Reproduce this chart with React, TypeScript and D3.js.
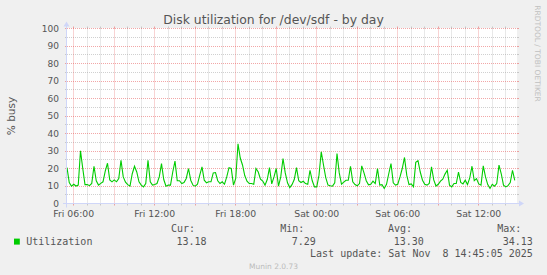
import React from "react";
import * as d3 from "d3";

const W = 547;
const H = 275;

// Time range of the graph (Munin "by day": 2000 minutes)
const START = new Date(2025, 10, 7, 5, 30);
const END = new Date(2025, 10, 8, 14, 50);
const STEP_MIN = 10;

const title = "Disk utilization for /dev/sdf - by day";
const yLabel = "% busy";
const seriesName = "Utilization";
const yTicks = [0, 10, 20, 30, 40, 50, 60, 70, 80, 90, 100];
const yMinorTicks = [5, 15, 25, 35, 45, 55, 65, 75, 85, 95];
const statLabels = ["Cur:", "Min:", "Avg:", "Max:"];
const statValues = ["13.18", "7.29", "13.30", "34.13"];
const lastUpdate = "Last update: Sat Nov  8 14:45:05 2025";
const watermark = "Munin 2.0.73";
const rrdLogo = "RRDTOOL / TOBI OETIKER";

const utilization = [
  20.5, 12, 9.9, 11.0, 10.0, 10.5, 30.1, 20, 10.8, 10.8,
  10.2, 11.5, 21.3, 13.0, 10.5, 11.5, 12.4, 18.5, 23.0, 13.5,
  12.4, 13.5, 12.4, 14.3, 24.7, 15.2, 12.2, 10.8, 9.9, 17.0,
  21.3, 18.0, 12.4, 10.5, 9.5, 11.4, 24.7, 12.4, 10.5, 10.8,
  11.4, 15.2, 22.8, 13.7, 9.9, 10.5, 10.5, 18.0, 24.2, 13.0,
  13.0, 11.4, 12.0, 14.3, 20.0, 13.3, 10.5, 9.9, 11.0, 16.2,
  20.9, 13.3, 11.8, 12.4, 12.4, 17.5, 17.7, 13.0, 11.4, 12.4,
  11.0, 15.2, 20.5, 20.0, 10.5, 14.3, 34.1, 26.0, 22.0, 16.0,
  12.8, 11.4, 11.4, 11.0, 20.0, 18.0, 13.9, 12.8, 10.5, 13.7,
  20.5, 11.2, 15.2, 20.0, 9.9, 15.2, 25.7, 17.5, 11.8, 9.1,
  10.8, 13.7, 20.5, 13.0, 12.0, 12.7, 11.4, 11.0, 19.0, 13.0,
  9.5, 9.5, 16.2, 29.5, 22.0, 14.8, 10.5, 10.1, 9.9, 11.8,
  28.6, 17.5, 11.0, 12.2, 13.3, 13.3, 21.3, 12.4, 10.8, 10.1,
  11.4, 21.5, 17.5, 13.0, 10.7, 11.0, 12.8, 11.4, 20.0, 10.5,
  10.8, 8.6, 11.0, 17.0, 22.8, 11.8, 10.5, 11.0, 15.2, 20.0,
  26.3, 16.2, 10.8, 11.2, 9.5, 23.5, 24.5, 18.0, 13.3, 11.0,
  10.5, 11.4, 21.0, 13.5, 10.0, 11.0, 12.8, 13.9, 16.8, 19.0,
  10.5, 9.5, 11.4, 11.4, 17.9, 12.0, 11.2, 13.3, 10.8, 14.6,
  21.3, 13.0, 14.2, 11.2, 10.5, 21.5, 15.2, 10.8, 8.6, 11.0,
  9.9, 11.4, 21.9, 17.0, 10.5, 9.5, 10.2, 12.0, 19.0, 13.18,
];

const X0 = 67;
const X1 = 517;
const Y0 = 203.5;
const Y1 = 28.5;

const GRID = "rgba(143,143,143,0.42)";
const MGRID = "rgba(229,80,80,0.5)";
const AXIS = "#CFD6F8";
const FONT = "#555555";
const SANS = "'DejaVu Sans', sans-serif";
const MONO = "'DejaVu Sans Mono', monospace";

export default function App() {
  const x = d3.scaleTime().domain([START, END]).range([X0, X1]);
  const y = d3.scaleLinear().domain([0, 100]).range([Y0, Y1]);

  const points = utilization.map((v, i) => ({
    t: new Date(START.getTime() + i * STEP_MIN * 60000),
    v,
  }));
  const line = d3
    .line<{ t: Date; v: number }>()
    .x((d) => x(d.t))
    .y((d) => y(d.v));

  const hours = d3.timeHour.range(START, END);
  const snap = (p: number) => Math.round(p - 0.5) + 0.5;

  const minorX = hours.filter((h) => h.getHours() % 3 !== 0);
  const majorX = hours.filter((h) => h.getHours() % 3 === 0);
  const labelX = hours.filter((h) => h.getHours() % 6 === 0);
  const fmt = d3.timeFormat("%a %H:%M");

  return (
    <svg
      width={W}
      height={H}
      style={{ position: "fixed", left: 0, top: 0, display: "block" }}
    >
      <rect x={0} y={0} width={W} height={H} fill="#F0F0F0" />
      <rect x={X0} y={Y1 - 0.5} width={X1 - X0} height={Y0 - Y1 + 0.5} fill="#FFFFFF" />

      {/* minor grid */}
      {minorX.map((h, i) => {
        const px = snap(x(h));
        return (
          <g key={"mx" + i}>
            <line x1={px} x2={px} y1={Y1} y2={Y0} stroke={GRID} strokeDasharray="1,1" />
            <line x1={px} x2={px} y1={Y1 - 2} y2={Y1} stroke={GRID} />
            <line x1={px} x2={px} y1={Y0} y2={Y0 + 2} stroke={GRID} />
          </g>
        );
      })}
      {yMinorTicks.map((v, i) => {
        const py = snap(y(v));
        return (
          <g key={"my" + i}>
            <line x1={X0} x2={X1} y1={py} y2={py} stroke={GRID} strokeDasharray="1,1" />
            <line x1={X0 - 2} x2={X0} y1={py} y2={py} stroke={GRID} />
            <line x1={X1} x2={X1 + 2} y1={py} y2={py} stroke={GRID} />
          </g>
        );
      })}
      {/* major grid */}
      {majorX.map((h, i) => {
        const px = snap(x(h));
        return (
          <g key={"Mx" + i}>
            <line x1={px} x2={px} y1={Y1} y2={Y0} stroke={MGRID} strokeDasharray="1,1" />
            <line x1={px} x2={px} y1={Y1 - 2} y2={Y1} stroke={MGRID} />
            <line x1={px} x2={px} y1={Y0} y2={Y0 + 2} stroke={MGRID} />
          </g>
        );
      })}
      {yTicks.map((v, i) => {
        const py = snap(y(v));
        return (
          <g key={"My" + i}>
            <line x1={X0} x2={X1} y1={py} y2={py} stroke={MGRID} strokeDasharray="1,1" />
            <line x1={X0 - 2} x2={X0} y1={py} y2={py} stroke={MGRID} />
            <line x1={X1} x2={X1 + 2} y1={py} y2={py} stroke={MGRID} />
            <text
              x={59}
              y={y(v) + 3.2}
              textAnchor="end"
              fontFamily={SANS}
              fontSize={9}
              fill={FONT}
            >
              {v}
            </text>
          </g>
        );
      })}

      {/* data */}
      <path d={line(points) || ""} fill="none" stroke="#00CC00" strokeWidth={1.1} />

      {/* axes */}
      <line x1={X0 - 4} x2={X1 + 4} y1={Y0} y2={Y0} stroke={AXIS} />
      <line x1={X0 - 0.5} x2={X0 - 0.5} y1={Y0 + 4} y2={Y1 - 4} stroke={AXIS} />
      <polygon
        points={`${X1 + 2},${Y0 - 3} ${X1 + 2},${Y0 + 3} ${X1 + 7},${Y0}`}
        fill={AXIS}
      />
      <polygon
        points={`${X0 - 3.5},${Y1 - 2} ${X0 + 2.5},${Y1 - 2} ${X0 - 0.5},${Y1 - 7}`}
        fill={AXIS}
      />

      {/* x labels */}
      {labelX.map((h, i) => (
        <text
          key={"xl" + i}
          x={x(h)}
          y={217.3}
          textAnchor="middle"
          fontFamily={SANS}
          fontSize={9.3}
          fill={FONT}
        >
          {fmt(h)}
        </text>
      ))}

      {/* title */}
      <text
        x={W / 2}
        y={23.7}
        textAnchor="middle"
        fontFamily={SANS}
        fontSize={12.4}
        fill={FONT}
      >
        {title}
      </text>

      {/* y axis label */}
      <text
        transform={`translate(14.7,${(Y0 + Y1) / 2}) rotate(-90)`}
        textAnchor="middle"
        fontFamily={SANS}
        fontSize={10.5}
        fill={FONT}
      >
        {yLabel}
      </text>

      {/* rrdtool logo */}
      <text
        transform={`translate(535,53.5) rotate(90)`}
        textAnchor="middle"
        fontFamily={SANS}
        fontSize={7.5}
        fill="#C0C0C0"
      >
        {rrdLogo}
      </text>

      {/* legend */}
      {statLabels.map((s, i) => (
        <text
          key={"sl" + i}
          x={[171, 280.2, 388, 497.2][i]}
          y={232.4}
          fontFamily={MONO}
          fontSize={10}
          fill={FONT}
        >
          {s}
        </text>
      ))}
      <rect x={14} y={238.6} width={5.8} height={6} fill="#00CC00" />
      <text x={26.2} y={245.3} fontFamily={MONO} fontSize={10} fill={FONT}>
        {seriesName}
      </text>
      {statValues.map((s, i) => (
        <text
          key={"sv" + i}
          x={[206.6, 315.8, 423.9, 532.8][i]}
          y={245.3}
          textAnchor="end"
          fontFamily={MONO}
          fontSize={10}
          fill={FONT}
        >
          {s}
        </text>
      ))}
      <text
        x={532.8}
        y={256.9}
        textAnchor="end"
        fontFamily={MONO}
        fontSize={10}
        fill={FONT}
        xmlSpace="preserve"
        style={{ whiteSpace: "pre" }}
      >
        {lastUpdate}
      </text>
      <text
        x={W / 2}
        y={269.4}
        textAnchor="middle"
        fontFamily={SANS}
        fontSize={7.5}
        fill="#BBBBBB"
      >
        {watermark}
      </text>
    </svg>
  );
}
